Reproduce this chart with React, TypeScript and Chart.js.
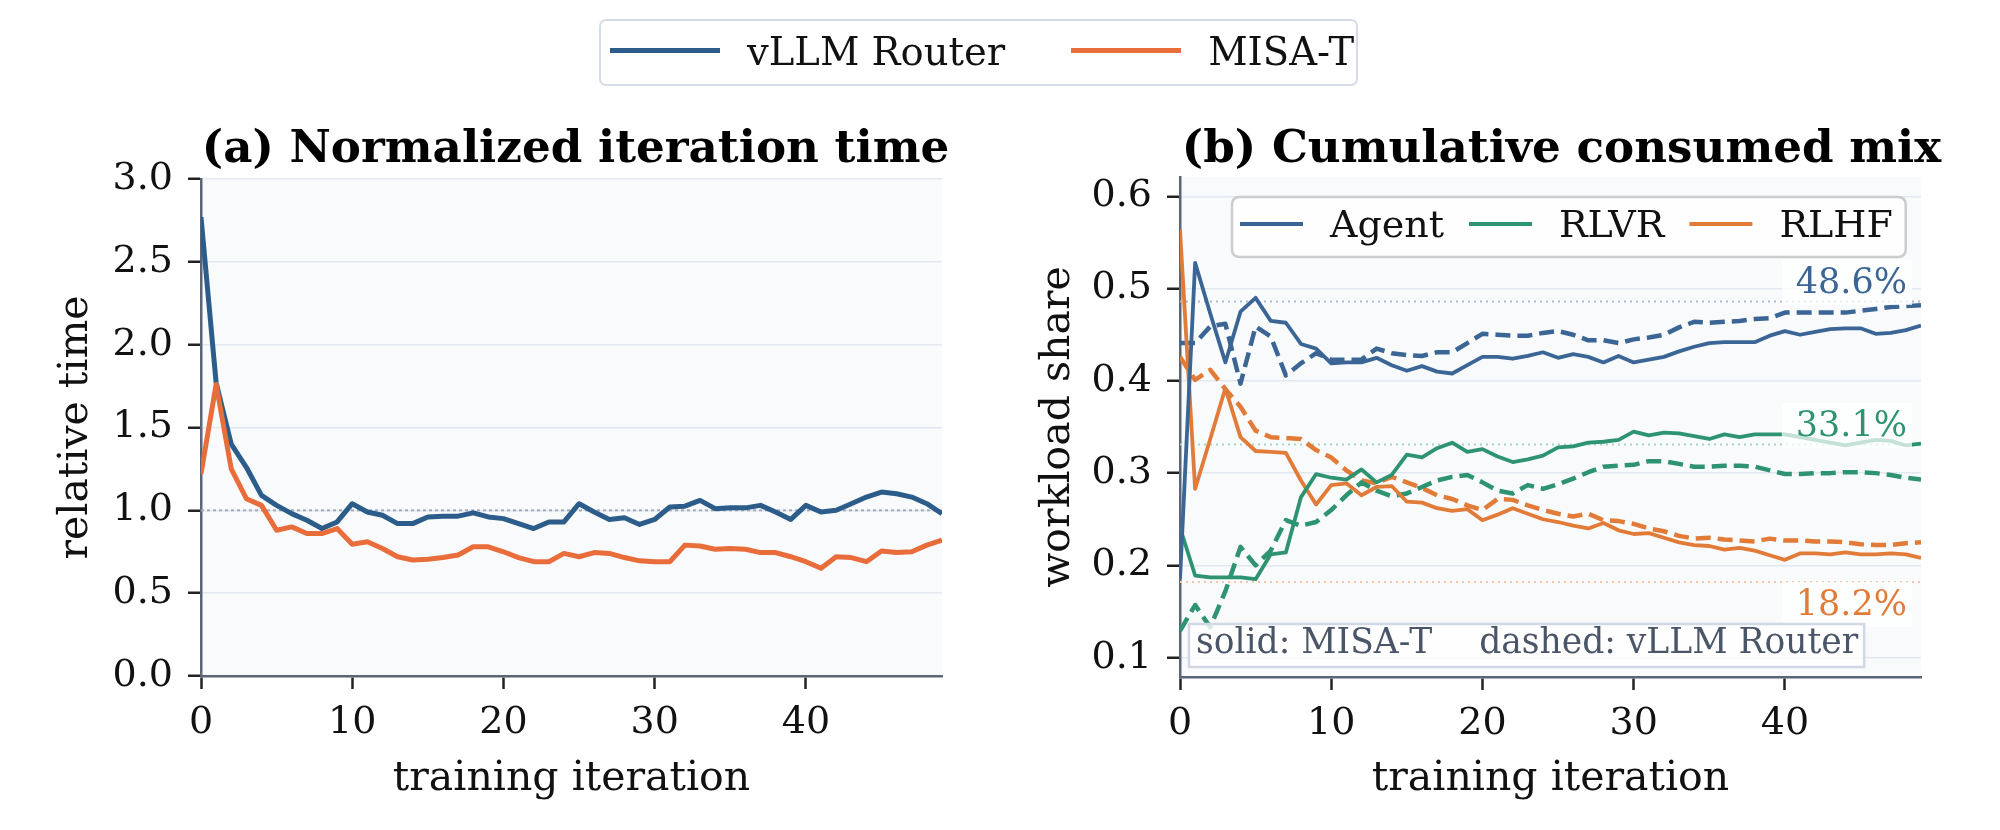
import React, { useEffect, useRef } from "react";
import { Chart, registerables } from "chart.js";

Chart.register(...registerables);

// ---------------- data ----------------
const iterations = [
  0, 1, 2, 3, 4, 5, 6, 7, 8, 9, 10, 11, 12, 13, 14, 15, 16, 17, 18, 19, 20, 21, 22, 23, 24,
  25, 26, 27, 28, 29, 30, 31, 32, 33, 34, 35, 36, 37, 38, 39, 40, 41, 42, 43, 44, 45, 46, 47, 48, 49,
];

// (a) normalized iteration time
const vllmTime = [
  2.77, 1.77, 1.4, 1.26, 1.09, 1.03, 0.98, 0.94, 0.89, 0.93,
  1.04, 0.99, 0.97, 0.92, 0.92, 0.96, 0.965, 0.965, 0.985, 0.96,
  0.95, 0.92, 0.89, 0.93, 0.93, 1.04, 0.99, 0.945, 0.955, 0.915,
  0.945, 1.02, 1.025, 1.06, 1.01, 1.015, 1.015, 1.03, 0.99, 0.945,
  1.03, 0.99, 1.0, 1.04, 1.08, 1.11, 1.1, 1.08, 1.04, 0.98,
];
const misaTime = [
  1.22, 1.76, 1.25, 1.07, 1.03, 0.88, 0.9, 0.86, 0.86, 0.89,
  0.795, 0.81, 0.77, 0.72, 0.7, 0.705, 0.715, 0.73, 0.78, 0.78,
  0.75, 0.715, 0.69, 0.69, 0.74, 0.72, 0.745, 0.74, 0.715, 0.695,
  0.69, 0.69, 0.79, 0.785, 0.765, 0.77, 0.765, 0.745, 0.745, 0.72,
  0.69, 0.65, 0.72, 0.715, 0.69, 0.755, 0.745, 0.75, 0.79, 0.82,
];
const parityLevel = 1.0;

// (b) cumulative consumed mix  (solid = MISA-T, dashed = vLLM Router)
const agentMisa = [
  0.185, 0.528, 0.473, 0.42, 0.475, 0.49, 0.465, 0.463, 0.44, 0.435,
  0.419, 0.42, 0.42, 0.425, 0.417, 0.411, 0.416, 0.41, 0.408, 0.417,
  0.426, 0.426, 0.424, 0.427, 0.431, 0.425, 0.429, 0.426, 0.42, 0.427,
  0.42, 0.423, 0.426, 0.432, 0.437, 0.441, 0.442, 0.442, 0.442, 0.449,
  0.454, 0.45, 0.453, 0.456, 0.457, 0.457, 0.451, 0.452, 0.455, 0.46,
];
const agentVllm = [
  0.441, 0.441, 0.459, 0.462, 0.397, 0.459, 0.448, 0.406, 0.419, 0.43,
  0.423, 0.423, 0.423, 0.435, 0.43, 0.428, 0.427, 0.431, 0.431, 0.441,
  0.451, 0.45, 0.449, 0.449, 0.452, 0.454, 0.45, 0.444, 0.444, 0.441,
  0.445, 0.447, 0.45, 0.458, 0.464, 0.463, 0.464, 0.465, 0.467, 0.468,
  0.474, 0.474, 0.474, 0.474, 0.474, 0.476, 0.478, 0.48, 0.481, 0.482,
];
const rlvrMisa = [
  0.241, 0.189, 0.187, 0.187, 0.187, 0.185, 0.212, 0.214, 0.274, 0.299,
  0.295, 0.293, 0.304, 0.29, 0.298, 0.32, 0.317, 0.327, 0.333, 0.323,
  0.326, 0.318, 0.312, 0.315, 0.319, 0.328, 0.329, 0.333, 0.334, 0.336,
  0.345, 0.341, 0.344, 0.343, 0.34, 0.337, 0.342, 0.339, 0.342, 0.342,
  0.342, 0.339, 0.336, 0.333, 0.33, 0.333, 0.336, 0.335, 0.33, 0.332,
];
const rlvrVllm = [
  0.129, 0.157, 0.133, 0.172, 0.22, 0.2, 0.216, 0.249, 0.243, 0.247,
  0.26, 0.276, 0.29, 0.281, 0.275, 0.278, 0.285, 0.292, 0.296, 0.298,
  0.29, 0.281, 0.278, 0.287, 0.283, 0.288, 0.294, 0.301, 0.307, 0.308,
  0.309, 0.313, 0.313, 0.31, 0.307, 0.307, 0.308, 0.308, 0.307, 0.303,
  0.299, 0.299, 0.3, 0.3, 0.301, 0.301, 0.3, 0.298, 0.295, 0.293,
];
const rlhfMisa = [
  0.564, 0.283, 0.337, 0.392, 0.339, 0.324, 0.323, 0.322, 0.292, 0.266,
  0.287, 0.289, 0.276, 0.285, 0.286, 0.269, 0.268, 0.262, 0.259, 0.261,
  0.249, 0.255, 0.262, 0.256, 0.25, 0.247, 0.243, 0.24, 0.246, 0.238,
  0.234, 0.235, 0.23, 0.225, 0.222, 0.221, 0.217, 0.219, 0.216, 0.211,
  0.206, 0.213, 0.213, 0.212, 0.214, 0.212, 0.212, 0.213, 0.212, 0.208,
];
const rlhfVllm = [
  0.426, 0.401, 0.412, 0.391, 0.372, 0.346, 0.339, 0.338, 0.337, 0.325,
  0.317, 0.303, 0.292, 0.289, 0.296, 0.29, 0.284, 0.276, 0.272, 0.265,
  0.26, 0.272, 0.271, 0.265, 0.26, 0.256, 0.253, 0.256, 0.249, 0.248,
  0.245, 0.24, 0.237, 0.232, 0.229, 0.23, 0.228, 0.227, 0.226, 0.229,
  0.227, 0.227, 0.226, 0.226, 0.225, 0.223, 0.222, 0.222, 0.224, 0.225,
];

const mixNames = ["Agent", "RLVR", "RLHF"];
const targetShares = [0.486, 0.331, 0.182];
const targetLabels = ["48.6%", "33.1%", "18.2%"];
const systemNames = ["vLLM Router", "MISA-T"];
const noteSolid = "solid: MISA-T";
const noteDashed = "dashed: vLLM Router";
const titleA = "(a) Normalized iteration time";
const titleB = "(b) Cumulative consumed mix";

// ---------------- style ----------------
const SERIF = "'DejaVu Serif', 'Liberation Serif', serif";
const BLUE = "#2c5d8a";
const ORANGE = "#e96c3b";
const AGENT_C = "#3a6594";
const RLVR_C = "#2e9371";
const RLHF_C = "#e17b37";
const mixColors = [AGENT_C, RLVR_C, RLHF_C];
const mixRefColors = ["#a9bcd2", "#a3d6c4", "#f5c6a6"];
const targetPlacement = ["above", "above", "below"];
const SPINE = "#5a6577";
const GRID = "#e3e8f0";
const PLOT_BG = "#f8fafc";
const TITLE_BASELINE = 162;

const toXY = (vals: number[]) => vals.map((v, i) => ({ x: iterations[i], y: v }));
const flat = (v: number) => [
  { x: iterations[0], y: v },
  { x: iterations[iterations.length - 1], y: v },
];

const plotBg = {
  id: "plotBg",
  beforeDraw(chart: any) {
    const { ctx, chartArea: a } = chart;
    ctx.save();
    ctx.fillStyle = PLOT_BG;
    ctx.fillRect(a.left, a.top, a.right - a.left, a.bottom - a.top);
    ctx.restore();
  },
};

function panelTitle(text: string, dx: number) {
  return {
    id: "panelTitle",
    afterDraw(chart: any) {
      const { ctx, chartArea: a } = chart;
      ctx.save();
      ctx.font = `bold 45.2px ${SERIF}`;
      ctx.fillStyle = "#000";
      ctx.textAlign = "center";
      ctx.textBaseline = "alphabetic";
      ctx.fillText(text, (a.left + a.right) / 2 + dx, TITLE_BASELINE);
      ctx.restore();
    },
  };
}

function roundRectPath(ctx: CanvasRenderingContext2D, x: number, y: number, w: number, h: number, r: number) {
  ctx.beginPath();
  ctx.moveTo(x + r, y);
  ctx.lineTo(x + w - r, y);
  ctx.quadraticCurveTo(x + w, y, x + w, y + r);
  ctx.lineTo(x + w, y + h - r);
  ctx.quadraticCurveTo(x + w, y + h, x + w - r, y + h);
  ctx.lineTo(x + r, y + h);
  ctx.quadraticCurveTo(x, y + h, x, y + h - r);
  ctx.lineTo(x, y + r);
  ctx.quadraticCurveTo(x, y, x + r, y);
  ctx.closePath();
}

const mixDecor = {
  id: "mixDecor",
  afterDatasetsDraw(chart: any) {
    const { ctx, chartArea: a, scales } = chart;
    const ys = scales.y;
    ctx.save();

    // target share labels
    ctx.font = `35px ${SERIF}`;
    ctx.textBaseline = "alphabetic";
    targetShares.forEach((s, k) => {
      const py = ys.getPixelForValue(s);
      const baseline = targetPlacement[k] === "above" ? py - 8.5 : py + 33;
      const label = targetLabels[k];
      const w = ctx.measureText(label).width;
      const right = a.right - 14;
      const capH = 25;
      ctx.fillStyle = "rgba(255,255,255,0.72)";
      ctx.fillRect(right - w - 14, baseline - capH - 8, w + 19, capH + 20);
      ctx.fillStyle = mixColors[k];
      ctx.textAlign = "right";
      ctx.fillText(label, right, baseline);
    });

    // note box
    ctx.font = `34.5px ${SERIF}`;
    ctx.textAlign = "left";
    const w1 = ctx.measureText(noteSolid).width;
    const w2 = ctx.measureText(noteDashed).width;
    const gap = 47;
    const bx = a.left + 9;
    const bh = 43;
    const by = a.bottom - 10 - bh;
    const bw = 7 + w1 + gap + w2 + 6;
    ctx.fillStyle = "rgba(255,255,255,0.8)";
    ctx.fillRect(bx, by, bw, bh);
    ctx.strokeStyle = "#cfd8e4";
    ctx.lineWidth = 2.5;
    ctx.strokeRect(bx, by, bw, bh);
    ctx.fillStyle = "#4a5568";
    ctx.fillText(noteSolid, bx + 7, by + bh - 14);
    ctx.fillText(noteDashed, bx + 7 + w1 + gap, by + bh - 14);

    // legend
    ctx.font = `38px ${SERIF}`;
    const widths = mixNames.map((n) => ctx.measureText(n).width);
    const sample = 63;
    const lx = a.left + 52;
    const ly = a.top + 20;
    const lh = 60;
    const lw = 8 + widths.reduce((acc, w) => acc + sample + 27 + w, 0) + 25 * (mixNames.length - 1) + 13;
    roundRectPath(ctx, lx, ly, lw, lh, 8);
    ctx.fillStyle = "rgba(255,255,255,0.8)";
    ctx.fill();
    ctx.strokeStyle = "#cccccc";
    ctx.lineWidth = 2.5;
    ctx.stroke();
    let x = lx + 8;
    mixNames.forEach((n, k) => {
      ctx.strokeStyle = mixColors[k];
      ctx.lineWidth = 4;
      ctx.beginPath();
      ctx.moveTo(x, ly + 27);
      ctx.lineTo(x + sample, ly + 27);
      ctx.stroke();
      ctx.fillStyle = "#111";
      ctx.fillText(n, x + sample + 27, ly + 40);
      x += sample + 27 + widths[k] + 25;
    });

    ctx.restore();
  },
};

const tickFont = { family: SERIF, size: 38 };
const axisTitleFont = { family: SERIF, size: 41 };

function baseScales(opts: {
  yMin: number; yMax: number; yStep: number; yTitle: string; yWidth: number; yTitlePad: number; xHeight: number;
}) {
  return {
    x: {
      type: "linear" as const,
      min: iterations[0],
      max: iterations[iterations.length - 1],
      border: { color: SPINE, width: 2.5 },
      grid: { drawOnChartArea: false, drawTicks: true, tickLength: 13, tickColor: "#222", tickWidth: 2.5 },
      ticks: {
        stepSize: 10,
        includeBounds: false,
        font: tickFont,
        color: "#111",
        padding: 11,
        maxRotation: 0,
        callback: (v: any) => String(v),
      },
      title: {
        display: true,
        text: "training iteration",
        font: axisTitleFont,
        color: "#111",
        padding: { top: 0, bottom: 25.6 },
      },
      afterFit: (s: any) => {
        s.height = opts.xHeight;
      },
    },
    y: {
      type: "linear" as const,
      min: opts.yMin,
      max: opts.yMax,
      border: { color: SPINE, width: 2.5 },
      grid: { color: GRID, lineWidth: 1.5, drawTicks: true, tickLength: 13, tickColor: "#222", tickWidth: 2.5 },
      ticks: {
        stepSize: opts.yStep,
        includeBounds: false,
        font: tickFont,
        color: "#111",
        padding: 15,
        callback: (v: any) => Number(v).toFixed(1),
      },
      title: {
        display: true,
        text: opts.yTitle,
        font: axisTitleFont,
        color: "#111",
        padding: { top: opts.yTitlePad, bottom: 0 },
      },
      afterFit: (s: any) => {
        s.width = opts.yWidth;
      },
    },
  };
}

export default function App() {
  const leftRef = useRef<HTMLCanvasElement | null>(null);
  const rightRef = useRef<HTMLCanvasElement | null>(null);

  useEffect(() => {
    if (!leftRef.current || !rightRef.current) return;
    const line = { pointRadius: 0, tension: 0, fill: false, borderJoinStyle: "round" as const };

    const left = new Chart(leftRef.current, {
      type: "line",
      data: {
        datasets: [
          { label: systemNames[1], data: toXY(misaTime), borderColor: ORANGE, borderWidth: 5, ...line },
          { label: systemNames[0], data: toXY(vllmTime), borderColor: BLUE, borderWidth: 5, ...line },
          { label: "parity", data: flat(parityLevel), borderColor: "#a3abb9", borderWidth: 2, borderDash: [3, 3], ...line },
        ],
      },
      options: {
        responsive: false,
        animation: false,
        layout: { padding: { left: 0, right: 58, top: 179, bottom: 0 } },
        plugins: {
          legend: { display: false },
          tooltip: { enabled: false },
          title: { display: false },
        },
        scales: baseScales({ yMin: 0, yMax: 3, yStep: 0.5, yTitle: "relative time", yWidth: 201, yTitlePad: 52, xHeight: 154 }) as any,
      },
      plugins: [plotBg, panelTitle(titleA, 4)],
    });

    const solid = { borderWidth: 3.8, ...line };
    const dashed = { borderWidth: 4.5, borderDash: [15, 7], borderCapStyle: "butt" as const, ...line };
    const right = new Chart(rightRef.current, {
      type: "line",
      data: {
        datasets: [
          { label: mixNames[0], data: toXY(agentMisa), borderColor: AGENT_C, ...solid },
          { label: mixNames[1], data: toXY(rlvrMisa), borderColor: RLVR_C, ...solid },
          { label: mixNames[2], data: toXY(rlhfMisa), borderColor: RLHF_C, ...solid },
          { label: mixNames[0] + " (vLLM)", data: toXY(agentVllm), borderColor: AGENT_C, ...dashed },
          { label: mixNames[1] + " (vLLM)", data: toXY(rlvrVllm), borderColor: RLVR_C, ...dashed },
          { label: mixNames[2] + " (vLLM)", data: toXY(rlhfVllm), borderColor: RLHF_C, ...dashed },
          ...targetShares.map((s, k) => ({
            label: targetLabels[k],
            data: flat(s),
            borderColor: mixRefColors[k],
            borderWidth: 2,
            borderDash: [2, 4],
            ...line,
          })),
        ],
      },
      options: {
        responsive: false,
        animation: false,
        layout: { padding: { left: 0, right: 79, top: 177, bottom: 0 } },
        plugins: {
          legend: { display: false },
          tooltip: { enabled: false },
          title: { display: false },
        },
        scales: baseScales({ yMin: 0.079, yMax: 0.621, yStep: 0.1, yTitle: "workload share", yWidth: 180, yTitlePad: 33.4, xHeight: 153 }) as any,
      },
      plugins: [plotBg, mixDecor, panelTitle(titleB, 11)],
    });

    return () => {
      left.destroy();
      right.destroy();
    };
  }, []);

  const legendColors = [BLUE, ORANGE];

  return (
    <div style={{ position: "absolute", left: 0, top: 0, width: 2000, height: 830, background: "#fff", overflow: "hidden" }}>
      <style>{`body{margin:0;}`}</style>
      <canvas ref={leftRef} width={1000} height={830} style={{ position: "absolute", left: 0, top: 0, width: 1000, height: 830 }} />
      <canvas ref={rightRef} width={1000} height={830} style={{ position: "absolute", left: 1000, top: 0, width: 1000, height: 830 }} />
      <div
        style={{
          position: "absolute",
          left: 599,
          top: 19,
          width: 759,
          height: 67,
          boxSizing: "border-box",
          border: "2px solid #d6dce5",
          borderRadius: 7,
          background: "#fff",
          display: "flex",
          alignItems: "center",
          fontFamily: SERIF,
          fontSize: 38.5,
          lineHeight: 1,
          color: "#111",
        }}
      >
        {systemNames.map((name, k) => (
          <React.Fragment key={name}>
            <span
              style={{
                display: "inline-block",
                width: 110,
                height: 5,
                background: legendColors[k],
                marginLeft: k === 0 ? 9 : 66,
                marginTop: -5,
                flex: "none",
              }}
            />
            <span style={{ marginLeft: 27, whiteSpace: "nowrap" }}>{name}</span>
          </React.Fragment>
        ))}
      </div>
    </div>
  );
}
